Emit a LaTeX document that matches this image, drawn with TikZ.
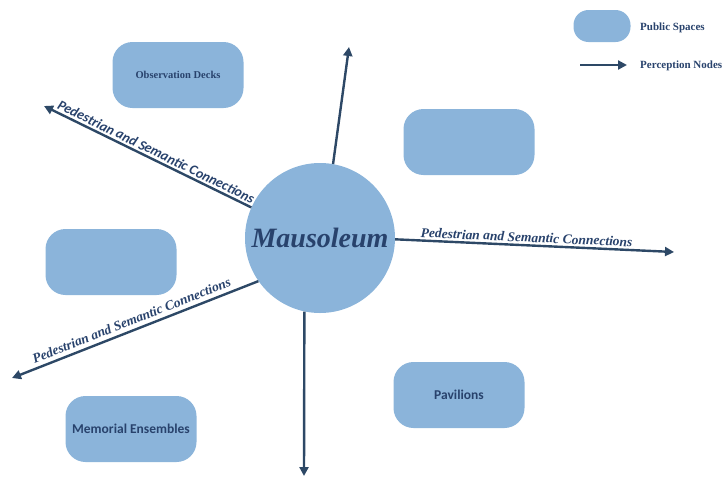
\documentclass[tikz,border=0pt]{standalone}
\usepackage{fontspec}
\setmainfont{Liberation Serif}
\newfontfamily\carlitofont{Carlito}
\usetikzlibrary{arrows.meta}
\definecolor{fillblue}{RGB}{139,180,218}
\definecolor{linedark}{RGB}{45,72,102}
\definecolor{textdark}{RGB}{40,66,108}
\begin{document}
\begin{tikzpicture}[x=1pt,y=-1pt,
  space/.style={fill=fillblue, rounded corners=20pt, minimum width=131pt, minimum height=66pt, inner sep=0pt, text=textdark},
  conn/.style={draw=linedark, line width=2.4pt, -{Triangle[length=9pt,width=9pt]}},
  lbl/.style={text=textdark, sloped, above, inner sep=2pt},
  serlbl/.style={lbl, font=\fontsize{13.5}{15}\selectfont\bfseries\itshape},
  sanslbl/.style={lbl, font=\carlitofont\fontsize{14}{16}\selectfont\bfseries\itshape},
  serbox/.style={font=\fontsize{10.5}{12}\selectfont\bfseries},
  sansbox/.style={font=\carlitofont\fontsize{13.5}{15}\selectfont\bfseries},
  legtext/.style={anchor=west, text=textdark, inner sep=0pt, font=\fontsize{11}{12}\selectfont\bfseries}
]
\useasboundingbox (0,0) rectangle (727,477);

% public spaces
\node[space, serbox] (obs) at (178,75) {Observation Decks};
\node[space] (e1) at (469,142) {};
\node[space] (e2) at (111,262) {};
\node[space, sansbox] (pav) at (459,395) {Pavilions};
\node[space, sansbox] (mem) at (131,429) {Memorial Ensembles};

% center
\node[circle, fill=fillblue, minimum size=150pt, inner sep=0pt, text=textdark,
      font=\fontsize{28}{30}\selectfont\bfseries\itshape] (M) at (320,238) {Mausoleum};

% arrow ends
\coordinate (tU) at (349,47);
\coordinate (tD) at (304,476);
\coordinate (tR) at (674,252);
\coordinate (tUL) at (44,106);
\coordinate (tLL) at (12,378);

\draw[conn] (M.80) -- (tU);
\draw[conn] (M.258) -- (tD);
\draw[conn] (M.359) -- (tR) node[serlbl, pos=0.47] {Pedestrian and Semantic Connections};
\draw[conn] (M.156) -- (tUL) node[sanslbl, pos=0.476] {Pedestrian and Semantic Connections};
\draw[conn] (M.215) -- (tLL) node[serlbl, pos=0.5, inner sep=4pt] {Pedestrian and Semantic Connections};

% legend
\node[fill=fillblue, rounded corners=15pt, minimum width=57pt, minimum height=32pt, inner sep=0pt] (legbox) at (602,26) {};
\node[legtext] (legt1) at (640,28) {Public Spaces};
\coordinate (la) at (580,65);
\coordinate (lb) at (627,65);
\draw[conn, line width=2.2pt] (la) -- (lb);
\node[legtext] (legt2) at (640,66) {Perception Nodes};
\end{tikzpicture}
\end{document}
